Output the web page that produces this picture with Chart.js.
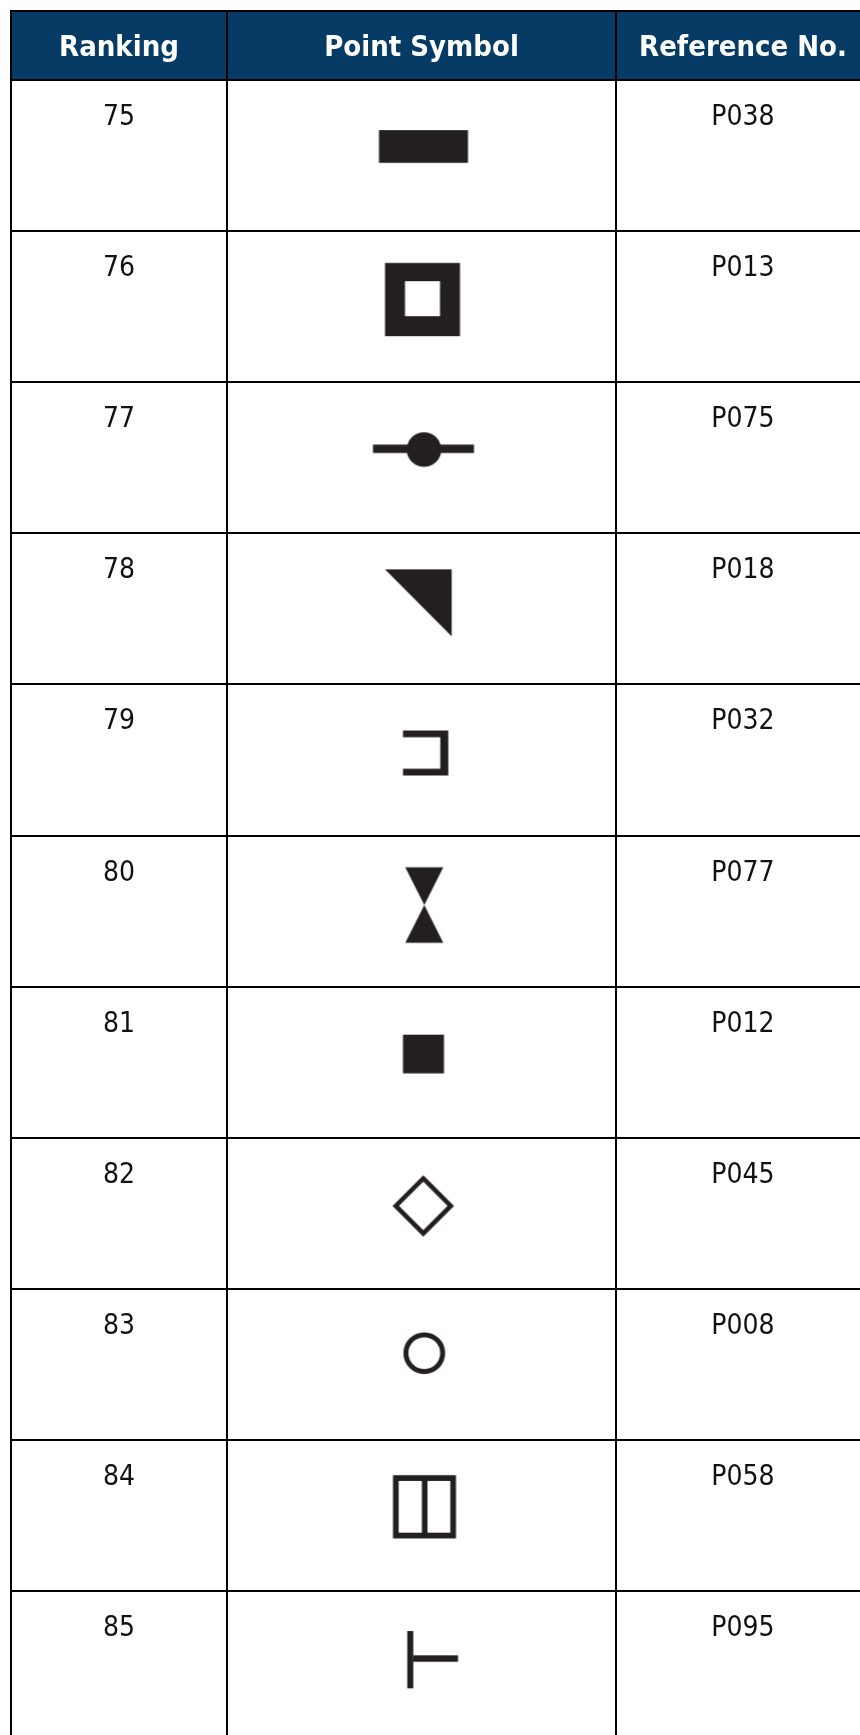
<!DOCTYPE html>
<html>
<head>
<meta charset="utf-8">
<title>Point symbols</title>
<script src="https://cdn.jsdelivr.net/npm/chart.js@4"></script>
<style>
  html, body { margin: 0; padding: 0; background: #fff; }
  canvas { display: block; }
</style>
</head>
<body>
<canvas id="symbolTable" width="860" height="1735"></canvas>
<script>
var columnTitles = ['Ranking', 'Point Symbol', 'Reference No.'];
var rankings = [75, 76, 77, 78, 79, 80, 81, 82, 83, 84, 85];
var references = ['P038', 'P013', 'P075', 'P018', 'P032', 'P077', 'P012', 'P045', 'P008', 'P058', 'P095'];
var symbolNames = ['bar', 'squareRing', 'lineDot', 'wedge', 'bracket', 'hourglass', 'square', 'diamond', 'ring', 'window', 'tee'];

// table frame: x is in pixels across, y is in ranks (a rank's row starts at its value)
var columnEdges = [11, 227, 616, 870];
var headerTop = 74.543;
var symbolRowPos = 0.45;

var INK = '#231f20';
var NAVY = '#063b65';

// each symbol is drawn around the middle of its own little canvas
var shapes = {
    bar: function(c) { c.fillRect(-42.5, -18, 89, 32.7); },
    squareRing: function(c) {
        c.beginPath();
        c.rect(-36.5, -36.3, 75, 73.3);
        c.rect(-16.5, -18, 35, 35);
        c.fill('evenodd');
    },
    lineDot: function(c) {
        c.fillRect(-48.5, -5.7, 101, 8.4);
        c.beginPath();
        c.arc(2.5, -0.7, 17.3, 0, Math.PI * 2);
        c.fill();
    },
    wedge: function(c) { poly(c, [[-36.5, -32], [30.2, -32], [30.2, 35]]); },
    bracket: function(c) {
        poly(c, [[-18.5, -22], [26.8, -22], [26.8, 23], [-18.5, 23], [-18.5, 16.3],
                 [18.8, 16.3], [18.8, -15.3], [-18.5, -15.3]]);
    },
    hourglass: function(c) {
        poly(c, [[-16.2, -36.3], [21.8, -36.3], [-16.2, 39.3], [21.8, 39.3]]);
    },
    square: function(c) { c.fillRect(-18.5, -20, 41, 38.7); },
    diamond: function(c) {
        c.lineWidth = 4.6;
        c.beginPath();
        c.moveTo(1.8, -27.3);
        c.lineTo(29.3, 0.2);
        c.lineTo(1.8, 27.7);
        c.lineTo(-25.7, 0.2);
        c.closePath();
        c.stroke();
    },
    ring: function(c) {
        c.lineWidth = 5;
        c.beginPath();
        c.arc(2.8, -3.7, 18.4, 0, Math.PI * 2);
        c.stroke();
    },
    window: function(c) {
        c.beginPath();
        c.rect(-28.5, -32.8, 63, 63.3);
        c.rect(-22.8, -27.1, 23.2, 51.9);
        c.rect(6, -27.1, 22.8, 51.9);
        c.fill('evenodd');
    },
    tee: function(c) {
        c.fillRect(-14.2, -28, 6, 57.3);
        c.fillRect(-8.2, -3.7, 44.7, 6.4);
    }
};

function poly(c, pts) {
    c.beginPath();
    pts.forEach(function(p, i) {
        if (i === 0) c.moveTo(p[0], p[1]); else c.lineTo(p[0], p[1]);
    });
    c.closePath();
    c.fill();
}

function symbolCanvas(name) {
    var cv = document.createElement('canvas');
    cv.width = 120;
    cv.height = 120;
    var c = cv.getContext('2d');
    c.translate(60, 60);
    c.fillStyle = INK;
    c.strokeStyle = INK;
    shapes[name](c);
    return cv;
}

function middle(col) {
    return (columnEdges[col] + columnEdges[col + 1]) / 2;
}

// header band and page colour go under the grid, the words go on top
var tablePlugin = {
    id: 'tablePlugin',
    beforeDraw: function(chart) {
        var c = chart.ctx, sx = chart.scales.x, sy = chart.scales.y;
        c.save();
        c.fillStyle = '#fff';
        c.fillRect(0, 0, chart.width, chart.height);
        c.fillStyle = NAVY;
        var top = sy.getPixelForValue(headerTop);
        c.fillRect(sx.getPixelForValue(columnEdges[0]), top, chart.width, sy.getPixelForValue(rankings[0]) - top);
        c.restore();
    },
    afterDraw: function(chart) {
        var c = chart.ctx, sx = chart.scales.x, sy = chart.scales.y;
        c.save();
        c.textAlign = 'center';
        c.textBaseline = 'alphabetic';
        c.fillStyle = '#fff';
        c.font = 'bold 29px "DejaVu Sans Condensed", "DejaVu Sans"';
        columnTitles.forEach(function(t, i) {
            c.fillText(t, sx.getPixelForValue(middle(i)), sy.getPixelForValue(rankings[0]) - 24);
        });
        c.fillStyle = '#111';
        c.font = '28px "DejaVu Sans Condensed", "DejaVu Sans"';
        rankings.forEach(function(r, i) {
            var base = sy.getPixelForValue(r) + 45;
            c.fillText(String(r), sx.getPixelForValue(middle(0)), base);
            c.fillText(references[i], sx.getPixelForValue(middle(2)), base);
        });
        c.restore();
    }
};

var ctx = document.getElementById('symbolTable').getContext('2d');
var symbolTable = new Chart(ctx, {
    type: 'scatter',
    data: {
        datasets: [{
            label: columnTitles[1],
            data: rankings.map(function(r) {
                return { x: middle(1), y: r + symbolRowPos };
            }),
            pointStyle: symbolNames.map(symbolCanvas),
            pointRadius: 60,
            pointHoverRadius: 60
        }]
    },
    options: {
        responsive: false,
        animation: false,
        events: [],
        layout: { autoPadding: false, padding: { left: 10, top: 10, right: 0, bottom: 0 } },
        plugins: {
            legend: { display: false },
            tooltip: { enabled: false },
            title: { display: false }
        },
        scales: {
            x: {
                type: 'linear',
                min: 10,
                max: 860,
                afterBuildTicks: function(axis) {
                    axis.ticks = columnEdges.slice(0, 3).map(function(v) { return { value: v }; });
                },
                ticks: { display: false },
                border: { display: false },
                grid: { color: '#000', lineWidth: 2, drawTicks: false }
            },
            y: {
                type: 'linear',
                reverse: true,
                min: 74.536,
                max: 85.953,
                afterBuildTicks: function(axis) {
                    axis.ticks = [headerTop].concat(rankings).map(function(v) { return { value: v }; });
                },
                ticks: { display: false },
                border: { display: false },
                grid: { color: '#000', lineWidth: 2, drawTicks: false }
            }
        }
    },
    plugins: [tablePlugin]
});
</script>
</body>
</html>
